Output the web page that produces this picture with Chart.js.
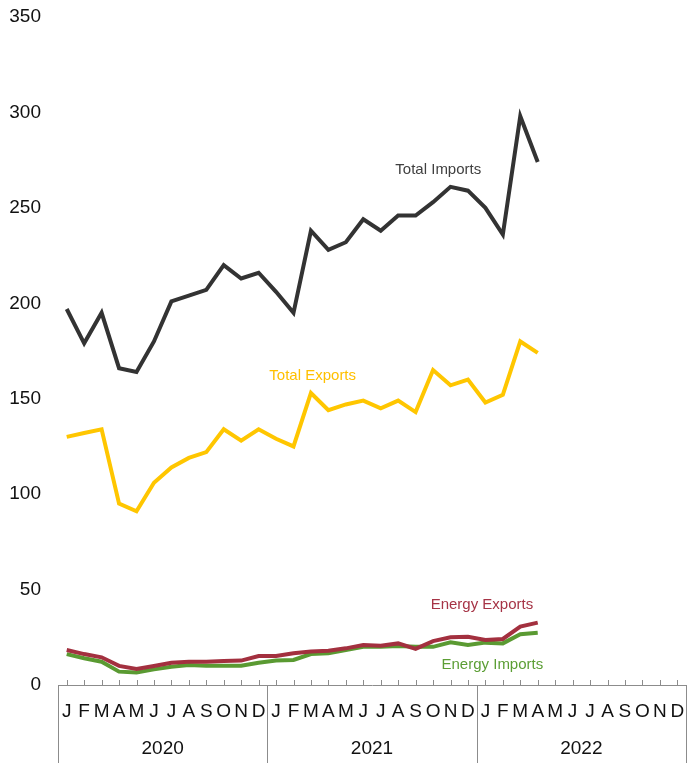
<!DOCTYPE html>
<html>
<head>
<meta charset="utf-8">
<script src="https://cdn.jsdelivr.net/npm/chart.js@4"></script>
<style>
  html, body { margin: 0; padding: 0; background: #fff; }
  #wrap { width: 694px; height: 763px; }
</style>
</head>
<body>
<div id="wrap"><canvas id="chart"></canvas></div>
<script>
const months = ['J', 'F', 'M', 'A', 'M', 'J', 'J', 'A', 'S', 'O', 'N', 'D']
const years = ['2020', '2021', '2022']
const yTicks = [0, 50, 100, 150, 200, 250, 300, 350]

// Jan 2020 - Apr 2022
const totalImports = [197, 179, 195, 166, 164, 180, 201, 204, 207, 220, 213, 216,
    206, 195, 238, 228, 232, 244, 238, 246, 246, 253, 261, 259,
    250, 236, 298, 274]
const totalExports = [130, 132, 134, 95, 91, 106, 114, 119, 122, 134, 128, 134,
    129, 125, 153, 144, 147, 149, 145, 149, 143, 165, 157, 160,
    148, 152, 180, 174]
const energyExports = [18.3, 16.2, 14.5, 10, 8.4, 10, 11.7, 12.2, 12.2, 12.6, 12.8, 15.2,
    15.2, 16.6, 17.5, 18, 19.2, 21, 20.6, 21.8, 18.9, 23, 25, 25.3,
    23.6, 24.1, 30.6, 32.7]
const energyImports = [16.2, 14, 12.2, 7, 6.6, 8.2, 9.6, 10.5, 10.1, 10.1, 10.1, 11.7,
    12.8, 13.1, 16.2, 16.6, 18.3, 20, 20, 20.4, 20, 20, 22.4, 21,
    22.2, 21.8, 26.6, 27.4]

const labels = years.flatMap(() => months)
const FONT = "'Liberation Sans', Arial, sans-serif"

// series name labels, placed in data units (x = month index, y = value)
const seriesLabels = [
    { text: 'Total Imports', color: '#404040', x: 21.3, y: 270 },
    { text: 'Total Exports', color: '#FFC000', x: 14.1, y: 162 },
    { text: 'Energy Exports', color: '#A63446', x: 23.8, y: 42 },
    { text: 'Energy Imports', color: '#5C9E35', x: 24.4, y: 10.5 }
]

const axisDecor = {
    id: 'axisDecor',
    afterDraw(chart) {
        const ctx = chart.ctx
        const x = chart.scales.x
        const y = chart.scales.y
        const yb = chart.chartArea.bottom
        ctx.save()
        ctx.strokeStyle = '#8c8c8c'
        ctx.lineWidth = 1
        ctx.beginPath()
        for (let i = 0; i < labels.length; i++) {
            const px = Math.round(x.getPixelForValue(i)) + 0.5
            ctx.moveTo(px, yb)
            ctx.lineTo(px, yb - 5)
        }
        for (let k = 0; k <= years.length; k++) {
            let px
            if (k === 0) px = x.left
            else if (k === years.length) px = x.right
            else px = (x.getPixelForValue(12 * k - 1) + x.getPixelForValue(12 * k)) / 2
            px = Math.round(px) + 0.5
            ctx.moveTo(px, yb)
            ctx.lineTo(px, chart.height)
        }
        ctx.stroke()

        ctx.fillStyle = '#111'
        ctx.font = '19px ' + FONT
        ctx.textAlign = 'center'
        ctx.textBaseline = 'middle'
        years.forEach((yr, k) => {
            const cx = (x.getPixelForValue(12 * k) + x.getPixelForValue(12 * k + 11)) / 2
            ctx.fillText(yr, cx, yb + 64)
        })

        ctx.font = '15px ' + FONT
        seriesLabels.forEach(l => {
            ctx.fillStyle = l.color
            ctx.fillText(l.text, x.getPixelForValue(l.x), y.getPixelForValue(l.y))
        })
        ctx.restore()
    }
}

const ctx = document.getElementById('chart').getContext('2d')

const chart = new Chart(ctx, {
    type: 'line',
    data: {
        labels: labels,
        datasets: [
            { label: 'Total Imports', data: totalImports, borderColor: '#333333' },
            { label: 'Total Exports', data: totalExports, borderColor: '#FFC600' },
            { label: 'Energy Exports', data: energyExports, borderColor: '#A3303F' },
            { label: 'Energy Imports', data: energyImports, borderColor: '#5A9A32' }
        ]
    },
    options: {
        responsive: true,
        maintainAspectRatio: false,
        animation: false,
        datasets: {
            line: { borderWidth: 4, pointRadius: 0, tension: 0, fill: false, borderJoinStyle: 'miter' }
        },
        layout: { padding: { top: 17, right: 8, left: 0, bottom: 0 } },
        plugins: {
            legend: { display: false },
            tooltip: { enabled: false }
        },
        scales: {
            x: {
                offset: true,
                grid: { display: false, drawTicks: false },
                border: { display: true, color: '#8c8c8c', width: 1 },
                ticks: {
                    autoSkip: false,
                    maxRotation: 0,
                    padding: 15,
                    color: '#111',
                    font: { family: FONT, size: 19 }
                },
                afterFit(scale) {
                    scale.height = 78
                    scale.paddingLeft = 0
                    scale.paddingRight = 0
                }
            },
            y: {
                min: 0,
                max: 350,
                afterBuildTicks(scale) { scale.ticks = yTicks.map(v => ({ value: v })) },
                grid: { display: false, drawTicks: false },
                border: { display: false },
                ticks: {
                    padding: 17,
                    color: '#111',
                    font: { family: FONT, size: 19 }
                },
                afterFit(scale) {
                    scale.width = 58
                    scale.paddingTop = 0
                    scale.paddingBottom = 0
                }
            }
        }
    },
    plugins: [axisDecor]
})
</script>
</body>
</html>
